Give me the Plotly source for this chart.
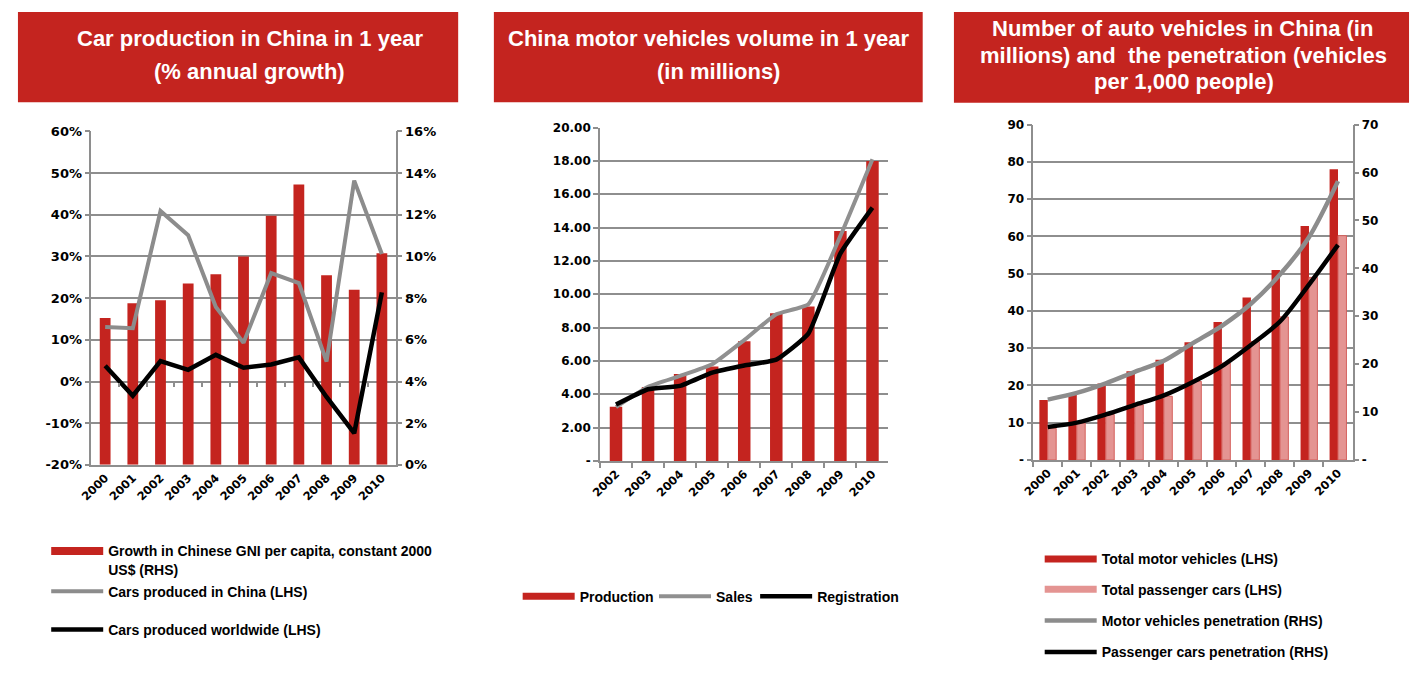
import plotly.graph_objects as go

W, H = 1413, 673

# ---- Chart 1: car production growth ----
years1 = ["2000", "2001", "2002", "2003", "2004", "2005", "2006", "2007", "2008", "2009", "2010"]
gni_growth = [7.05, 7.75, 7.9, 8.7, 9.15, 10.0, 11.95, 13.45, 9.1, 8.4, 10.15]      # RHS, %
cars_china = [13.1, 12.8, 40.9, 35.1, 17.9, 9.3, 26.0, 23.6, 4.8, 48.2, 30.6]       # LHS, %
cars_world = [3.8, -3.4, 4.9, 2.8, 6.4, 3.3, 4.1, 5.8, -3.7, -12.4, 21.4]          # LHS, %
lhs1_ticks = [-20, -10, 0, 10, 20, 30, 40, 50, 60]
lhs1_labels = ["-20%", "-10%", "0%", "10%", "20%", "30%", "40%", "50%", "60%"]
rhs1_ticks = [0, 2, 4, 6, 8, 10, 12, 14, 16]
rhs1_labels = ["0%", "2%", "4%", "6%", "8%", "10%", "12%", "14%", "16%"]

# ---- Chart 2: vehicle volume ----
years2 = ["2002", "2003", "2004", "2005", "2006", "2007", "2008", "2009", "2010"]
production = [3.25, 4.44, 5.22, 5.67, 7.18, 8.86, 9.27, 13.8, 18.0]
sales = [3.23, 4.45, 5.1, 5.8, 7.25, 8.8, 9.4, 13.5, 18.1]
registration = [3.38, 4.3, 4.5, 5.3, 5.73, 6.08, 7.64, 12.45, 15.2]
y2_ticks = [0, 2, 4, 6, 8, 10, 12, 14, 16, 18, 20]
y2_labels = ["-", "2.00", "4.00", "6.00", "8.00", "10.00", "12.00", "14.00", "16.00", "18.00", "20.00"]

# ---- Chart 3: vehicle stock and penetration ----
years3 = ["2000", "2001", "2002", "2003", "2004", "2005", "2006", "2007", "2008", "2009", "2010"]
motor_vehicles = [16.1, 18.0, 20.5, 23.8, 26.9, 31.6, 37.0, 43.6, 51.0, 62.8, 78.0]
passenger_cars = [8.5, 9.9, 12.2, 14.8, 17.1, 21.1, 26.0, 31.8, 38.4, 49.0, 60.2]
mv_penetration = [12.6, 14.0, 16.0, 18.4, 20.7, 24.4, 28.0, 32.6, 38.7, 46.5, 58.2]
pc_penetration = [6.9, 7.8, 9.5, 11.5, 13.5, 16.3, 19.6, 24.0, 28.9, 36.6, 44.9]
lhs3_ticks = [0, 10, 20, 30, 40, 50, 60, 70, 80, 90]
lhs3_labels = ["-", "10", "20", "30", "40", "50", "60", "70", "80", "90"]
rhs3_ticks = [0, 10, 20, 30, 40, 50, 60, 70]
rhs3_labels = ["-", "10", "20", "30", "40", "50", "60", "70"]

RED = "#C4241F"
PINK = "#E49492"
PINK_EDGE = "#D4605C"
GREY = "#8C8C8C"
GRID = "#8E8E8E"
FONT = "DejaVu Sans"
TEXT_FONT = "Liberation Sans"


def px(x):
    return x / W


def py(y):
    return 1 - y / H


tick_font = dict(family=FONT, size=13, color="black", weight="bold")
tick_font12 = dict(family=FONT, size=12, color="black", weight="bold")
xtick_font = dict(family=FONT, size=11.5, color="black", weight="bold")
legend_font = dict(family=TEXT_FONT, size=14, color="black", weight="bold")

fig = go.Figure()

# Chart 1 traces: bars on the base (right) axis, lines on the overlaid left axis
fig.add_trace(go.Bar(x=years1, y=gni_growth, xaxis="x", yaxis="y", marker=dict(color=RED, line=dict(width=0)),
                     width=0.39, offset=-0.195, showlegend=False))
fig.add_trace(go.Scatter(x=years1, y=cars_china, xaxis="x", yaxis="y2", mode="lines",
                         line=dict(color=GREY, width=4), name="Cars produced in China (LHS)", legend="legend2"))
fig.add_trace(go.Scatter(x=years1, y=cars_world, xaxis="x", yaxis="y2", mode="lines",
                         line=dict(color="black", width=4.5), name="Cars produced worldwide (LHS)", legend="legend3"))
fig.add_trace(go.Scatter(x=[None], y=[None], xaxis="x", yaxis="y", mode="lines", line=dict(color=RED, width=8),
                         name="Growth in Chinese GNI per capita, constant 2000<br>US$ (RHS)", legend="legend"))
# tick-only axis along the 0% line
fig.add_trace(go.Scatter(x=[None], y=[None], xaxis="x4", yaxis="y2", showlegend=False, hoverinfo="skip"))

# Chart 2 traces
fig.add_trace(go.Bar(x=years2, y=production, xaxis="x2", yaxis="y3", marker=dict(color=RED, line=dict(width=0)),
                     width=0.39, offset=-0.195, showlegend=False))
fig.add_trace(go.Scatter(x=[None], y=[None], xaxis="x2", yaxis="y3", mode="lines", line=dict(color=RED, width=7),
                         name="Production", legend="legend4"))
fig.add_trace(go.Scatter(x=years2, y=sales, xaxis="x2", yaxis="y3", mode="lines",
                         line=dict(color="#909090", width=4, shape="spline", smoothing=0.4),
                         name="Sales", legend="legend5"))
fig.add_trace(go.Scatter(x=years2, y=registration, xaxis="x2", yaxis="y3", mode="lines",
                         line=dict(color="black", width=4.5, shape="spline", smoothing=0.4),
                         name="Registration", legend="legend6"))

# Chart 3 traces
fig.add_trace(go.Bar(x=years3, y=motor_vehicles, xaxis="x3", yaxis="y4", marker=dict(color=RED, line=dict(width=0)),
                     width=0.29, offset=-0.29, showlegend=False))
fig.add_trace(go.Bar(x=years3, y=passenger_cars, xaxis="x3", yaxis="y4",
                     marker=dict(color=PINK, line=dict(color=PINK_EDGE, width=1)),
                     width=0.29, offset=0.0, showlegend=False))
fig.add_trace(go.Scatter(x=[None], y=[None], xaxis="x3", yaxis="y4", mode="lines", line=dict(color=RED, width=7),
                         name="Total motor vehicles (LHS)", legend="legend7"))
fig.add_trace(go.Scatter(x=[None], y=[None], xaxis="x3", yaxis="y4", mode="lines", line=dict(color=PINK, width=7),
                         name="Total passenger cars (LHS)", legend="legend8"))
fig.add_trace(go.Scatter(x=years3, y=mv_penetration, xaxis="x3", yaxis="y5", mode="lines",
                         line=dict(color=GREY, width=4.5, shape="spline", smoothing=0.8),
                         name="Motor vehicles penetration (RHS)", legend="legend9"))
fig.add_trace(go.Scatter(x=years3, y=pc_penetration, xaxis="x3", yaxis="y5", mode="lines",
                         line=dict(color="black", width=4.5, shape="spline", smoothing=0.8),
                         name="Passenger cars penetration (RHS)", legend="legend10"))

# plot-area boxes in pixels: (left, right, top, bottom)
box1 = (80, 387, 127.3, 468.3)
box2 = (593, 884, 123.3, 464.3)
box3 = (1030, 1352, 120.3, 463.3)


def xdom(b):
    return [px(b[0]), px(b[1])]


def ydom(b):
    return [py(b[3]), py(b[2])]


yaxis_common = dict(showgrid=True, gridcolor=GRID, gridwidth=1.5, zeroline=False, showline=True,
                    linecolor=GRID, linewidth=1.5, ticks="outside", ticklen=5, tickcolor=GRID, tickwidth=1.5)

zero_pos = ydom(box1)[0] + (0 - lhs1_ticks[0]) / (lhs1_ticks[-1] - lhs1_ticks[0]) * (ydom(box1)[1] - ydom(box1)[0])

fig.update_layout(
    width=W, height=H, margin=dict(l=0, r=0, t=0, b=0),
    paper_bgcolor="white", plot_bgcolor="white",
    barmode="overlay",
    xaxis=dict(domain=xdom(box1), anchor="y", type="category", range=[-0.5, len(years1) - 0.5],
               showline=True, linecolor=GRID, linewidth=1.5, ticks="", tickangle=-45, tickfont=xtick_font,
               showgrid=False),
    xaxis4=dict(domain=xdom(box1), anchor="free", position=zero_pos, overlaying="x", type="linear",
                range=[-0.5, len(years1) - 0.5], tickvals=[i + 0.5 for i in range(len(years1) - 1)],
                showticklabels=False, ticks="outside", ticklen=4, tickcolor=GRID, tickwidth=1.5,
                showgrid=False, showline=False, zeroline=False),
    yaxis=dict(domain=ydom(box1), anchor="x", side="right", range=[rhs1_ticks[0], rhs1_ticks[-1]],
               tickvals=rhs1_ticks, ticktext=rhs1_labels, tickfont=tick_font, **yaxis_common),
    yaxis2=dict(domain=ydom(box1), anchor="x", side="left", overlaying="y", range=[lhs1_ticks[0], lhs1_ticks[-1]],
                tickvals=lhs1_ticks, ticktext=lhs1_labels, tickfont=tick_font, **yaxis_common),
    xaxis2=dict(domain=xdom(box2), anchor="y3", type="category", range=[-0.5, len(years2) - 0.5],
                showline=True, linecolor=GRID, linewidth=1.5, ticks="outside", tickson="boundaries", ticklen=5,
                tickcolor=GRID, tickwidth=1.5, tickangle=-45, tickfont=xtick_font, showgrid=False),
    yaxis3=dict(domain=ydom(box2), anchor="x2", range=[y2_ticks[0], y2_ticks[-1]], tickvals=y2_ticks,
                ticktext=y2_labels, tickfont=tick_font12, **yaxis_common),
    xaxis3=dict(domain=xdom(box3), anchor="y4", type="category", range=[-0.5, len(years3) - 0.5],
                showline=True, linecolor=GRID, linewidth=1.5, ticks="outside", tickson="boundaries", ticklen=5,
                tickcolor=GRID, tickwidth=1.5, tickangle=-45, tickfont=xtick_font, showgrid=False),
    yaxis4=dict(domain=ydom(box3), anchor="x3", range=[lhs3_ticks[0], lhs3_ticks[-1]], tickvals=lhs3_ticks,
                ticktext=lhs3_labels, tickfont=tick_font12, **yaxis_common),
    yaxis5=dict(domain=ydom(box3), anchor="x3", side="right", overlaying="y4", range=[rhs3_ticks[0], rhs3_ticks[-1]],
                tickvals=rhs3_ticks, ticktext=rhs3_labels, tickfont=tick_font12,
                **{**yaxis_common, "showgrid": False}),
)


def legend_at(x, y):
    return dict(x=px(x), y=py(y), xanchor="left", yanchor="middle", bgcolor="rgba(0,0,0,0)",
                font=legend_font, itemwidth=52, valign="top", orientation="v", borderwidth=0,
                itemclick=False, itemdoubleclick=False)


fig.update_layout(
    legend=legend_at(34.5, 566),
    legend2=legend_at(34.5, 598),
    legend3=legend_at(34.5, 637),
    legend4=legend_at(510, 603),
    legend5=legend_at(647.5, 603),
    legend6=legend_at(749.5, 603),
    legend7=legend_at(1036.5, 565),
    legend8=legend_at(1036.5, 596),
    legend9=legend_at(1036.5, 628),
    legend10=legend_at(1036.5, 660),
)

# title banners
banners = [(6, 450, 5, 97.5), (486, 918.5, 5, 97.5), (950, 1409, 5, 98)]
for b in banners:
    fig.add_shape(type="rect", xref="paper", yref="paper", x0=px(b[0]), x1=px(b[1]), y0=py(b[3]), y1=py(b[2]),
                  fillcolor=RED, line=dict(width=0), layer="below")

title_lines = [
    ("Car production in China in 1 year", 240, 32),
    ("(% annual growth)", 240, 66),
    ("China motor vehicles volume in 1 year", 702.5, 32),
    ("(in millions)", 713, 66),
    ("Number of auto vehicles in China (in", 1181, 22.5),
    ("millions) and  the penetration (vehicles", 1182, 49.5),
    ("per 1,000 people)", 1182, 76.5),
]
for text, cx, cy in title_lines:
    fig.add_annotation(text=text.replace("  ", "&nbsp; "), x=px(cx), y=py(cy), xref="paper", yref="paper",
                       xanchor="center", yanchor="middle", showarrow=False,
                       font=dict(family=TEXT_FONT, size=22, color="white", weight="bold"))

fig.write_html("out.html")
